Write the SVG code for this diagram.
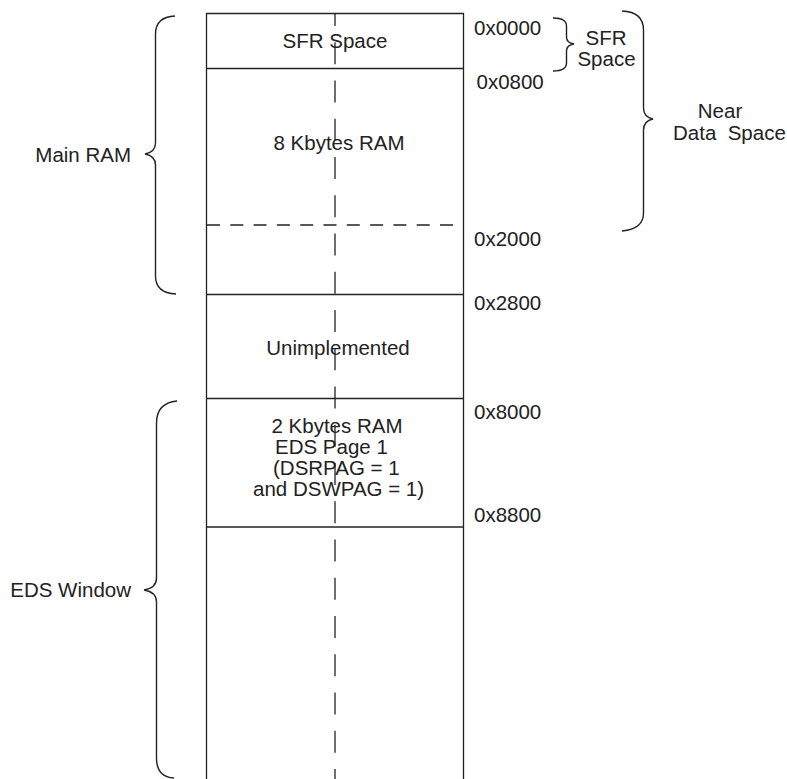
<svg xmlns="http://www.w3.org/2000/svg" width="787" height="779" viewBox="0 0 787 779">
<style>
text{font-family:"Liberation Sans",Arial,sans-serif;font-size:20.5px;fill:#222}
.c{text-anchor:middle}
.e{text-anchor:end}
.ln{stroke:#222;stroke-width:1.3;fill:none}
.br{stroke:#222;stroke-width:1.4;fill:none}
</style>
<rect width="787" height="779" fill="#fff"/>
<g id="memory-column">
<line class="ln" x1="206.5" y1="13" x2="206.5" y2="779"/>
<line class="ln" x1="463.5" y1="13" x2="463.5" y2="779"/>
<line class="ln" x1="206" y1="13.5" x2="464" y2="13.5"/>
<line class="ln" x1="206" y1="68.5" x2="464" y2="68.5"/>
<line class="ln" x1="207" y1="225" x2="463" y2="225" stroke-dasharray="13 10.3"/>
<line class="ln" x1="206" y1="294.5" x2="464" y2="294.5"/>
<line class="ln" x1="206" y1="398.5" x2="464" y2="398.5" stroke-width="2"/>
<line class="ln" x1="206" y1="527" x2="464" y2="527"/>
<line class="ln" x1="335" y1="13" x2="335" y2="779" stroke-dasharray="22 16.25" stroke-dashoffset="9"/>
</g>
<g id="sfr-space-block"><text class="c" x="335" y="48">SFR Space</text></g>
<g id="ram-8k-block"><text class="c" x="339" y="150">8 Kbytes RAM</text></g>
<g id="unimplemented-block"><text class="c" x="338" y="355">Unimplemented</text></g>
<g id="eds-page1-block">
<text class="c" x="337" y="433">2 Kbytes RAM</text>
<text x="275" y="454">EDS Page 1</text>
<text x="273" y="475">(DSRPAG = 1</text>
<text x="253" y="496">and DSWPAG = 1)</text>
</g>
<g id="addresses">
<text x="474" y="35">0x0000</text>
<text x="476.5" y="89">0x0800</text>
<text x="474" y="246">0x2000</text>
<text x="474" y="310">0x2800</text>
<text x="474" y="419">0x8000</text>
<text x="474" y="522">0x8800</text>
</g>
<g id="main-ram-brace">
<path class="br" d="M175 16 Q155.5 17 155.5 34 L155.5 143 Q155.5 152 145 154 Q155.5 156 155.5 165 L155.5 276 Q155.5 293 176 294"/>
<text class="e" x="131" y="162">Main RAM</text>
</g>
<g id="eds-window-brace">
<path class="br" d="M177 401 Q156.5 403 156.5 423 L156.5 578 Q156.5 588 144 590 Q156.5 592 156.5 602 L156.5 758 Q156.5 777 174 778"/>
<text class="e" x="131" y="597">EDS Window</text>
</g>
<g id="sfr-space-brace">
<path class="br" d="M553 18 Q566.5 18 566.5 26 L566.5 37 Q566.5 43 574 44 Q566.5 45 566.5 51 L566.5 63 Q566.5 71 553 71"/>
<text class="c" x="606" y="45">SFR</text>
<text class="c" x="606.5" y="66">Space</text>
</g>
<g id="near-data-brace">
<path class="br" d="M622 11 Q643.5 12 643.5 30 L643.5 108 Q643.5 117 653 119 Q643.5 121 643.5 130 L643.5 213 Q643.5 229 622 231"/>
<text class="c" x="720" y="118">Near</text>
<text x="673" y="140" xml:space="preserve">Data  Space</text>
</g>
</svg>
